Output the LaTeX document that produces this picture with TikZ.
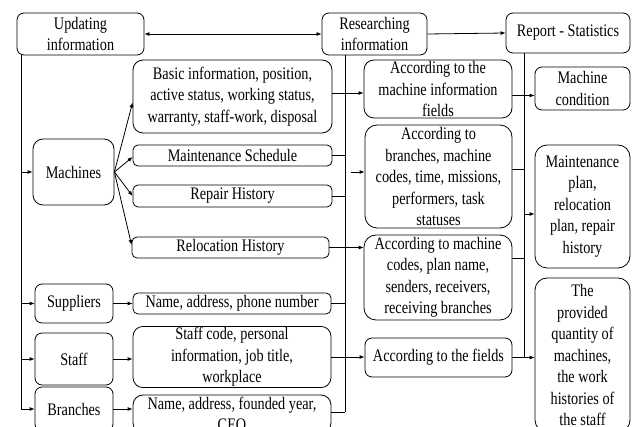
\documentclass[tikz,border=0pt]{standalone}
\usepackage{fontspec}
\setmainfont{Liberation Serif}[FakeStretch=0.81]
\usetikzlibrary{arrows.meta}
\begin{document}
\begin{tikzpicture}[x=1pt,y=-1pt,
  box/.style={draw, line width=0.8pt, rounded corners=7pt, align=center,
    inner sep=1pt, font=\fontsize{17.6}{21.5}\selectfont},
  bigbox/.style={box, rounded corners=12pt},
  link/.style={line width=0.8pt},
  arr/.style={link, -{Latex[length=5pt,width=4pt]}},
  dbl/.style={link, {Latex[length=5pt,width=4pt]}-{Latex[length=5pt,width=4pt]}}]
\useasboundingbox (0,0) rectangle (632,427);
\clip (0,0) rectangle (632,427);

% top row
\node[box, minimum width=127pt, minimum height=42pt] (upd) at (80.5,34) {Updating\\information};
\node[box, minimum width=105pt, minimum height=42pt] (res) at (374.5,34) {Researching\\information};
\node[box, minimum width=124pt, minimum height=40pt] (rep) at (568,33) {Report - Statistics};

% entities
\node[box, rounded corners=10pt, minimum width=81pt, minimum height=66pt] (mach) at (73.5,172) {Machines};
\node[box, minimum width=78pt, minimum height=39pt] (sup) at (74,303.5) {Suppliers};
\node[box, minimum width=78pt, minimum height=52pt] (staff) at (74,359) {Staff};
\node[box, minimum width=78pt, minimum height=44pt] (branch) at (74,409) {Branches};

% updated data
\node[box, rounded corners=10pt, minimum width=199pt, minimum height=73pt] (basic) at (232.5,96.5)
  {Basic information, position,\\active status, working status,\\warranty, staff-work, disposal};
\node[box, rounded corners=5pt, minimum width=199pt, minimum height=21pt] (msch) at (232.5,155.5) {Maintenance Schedule};
\node[box, rounded corners=5pt, minimum width=199pt, minimum height=22pt] (rhist) at (232.5,196) {Repair History};
\node[box, rounded corners=5pt, minimum width=197pt, minimum height=21pt] (reloc) at (230.5,247.5) {Relocation History};
\node[box, rounded corners=5pt, minimum width=198pt, minimum height=21pt] (sname) at (232,303.5) {Name, address, phone number};
\node[box, rounded corners=10pt, minimum width=198pt, minimum height=60pt] (scode) at (232,357)
  {Staff code, personal\\information, job title,\\workplace};
\node[box, rounded corners=10pt, minimum width=198pt, minimum height=38pt] (bname) at (232,414)
  {Name, address, founded year,\\CEO};

% search criteria
\node[box, rounded corners=10pt, minimum width=148pt, minimum height=58pt] (amach) at (438,89)
  {According to the\\machine information\\fields};
\node[bigbox, minimum width=147pt, minimum height=103pt] (abr) at (438.5,176.5)
  {According to\\branches, machine\\codes, time, missions,\\performers, task\\statuses};
\node[bigbox, minimum width=148pt, minimum height=85pt] (acodes) at (438,277.5)
  {According to machine\\codes, plan name,\\senders, receivers,\\receiving branches};
\node[box, minimum width=147pt, minimum height=39pt] (afields) at (438.5,357.5) {According to the fields};

% reports
\node[box, minimum width=95pt, minimum height=43pt] (mcond) at (582.5,88.5) {Machine\\condition};
\node[bigbox, minimum width=95pt, minimum height=123pt] (mplan) at (582.5,206.5)
  {Maintenance\\plan,\\relocation\\plan, repair\\history};
\node[bigbox, minimum width=95pt, minimum height=154pt] (prov) at (582.5,355)
  {The\\provided\\quantity of\\machines,\\the work\\histories of\\the staff};

% trunk positions and free line ends
\coordinate (tL) at (21,0);
\coordinate (tM) at (345,0);
\coordinate (tR) at (524,0);
\coordinate (mEnd) at (345,412);
\coordinate (ySel) at (0,93);
\coordinate (yBr) at (0,412);
\coordinate (fIn) at (351,172);
\coordinate (yCond) at (0,95.5);
\coordinate (yAbr) at (0,169);
\coordinate (yPlan) at (0,214);
\coordinate (yCodes) at (0,258);

% top row links
\draw[dbl] (upd.east) -- (res.west);
\draw[arr] (res.east) -- (rep.west);

% updating branch
\draw[link] (upd.south -| tL) -- (tL |- branch.west);
\draw[arr] (tL |- mach.west) -- (mach.west);
\draw[arr] (tL |- sup.west) -- (sup.west);
\draw[arr] (tL |- staff.west) -- (staff.west);
\draw[arr] (tL |- branch.west) -- (branch.west);

\draw[arr] (mach.east) -- ([yshift=-6pt]basic.west);
\draw[arr] (mach.east) -- ([yshift=-1.5pt]msch.west);
\draw[arr] (mach.east) -- (rhist.west);
\draw[arr] (mach.east) -- ([yshift=2.5pt]reloc.west);
\draw[arr] (sup.east) -- (sname.west);
\draw[arr] (staff.east) -- (staff.east -| scode.west);
\draw[arr] (branch.east) -- (branch.east -| bname.west);

% researching branch
\draw[link] (res.south -| tM) -- (mEnd);
\draw[arr] (basic.east |- ySel) -- (amach.west |- ySel);
\draw[link] (msch.east) -- (msch.east -| tM);
\draw[link] (rhist.east) -- (rhist.east -| tM);
\draw[arr] (reloc.east) -- (reloc.east -| acodes.west);
\draw[link] (sname.east) -- (sname.east -| tM);
\draw[arr] (scode.east) -- (scode.east -| afields.west);
\draw[link] (bname.east |- yBr) -- (mEnd);
\draw[arr] (fIn) -- (fIn -| abr.west);

% report branch
\draw[link] (rep.south -| tR) -- (tR |- afields.east);
\draw[arr] (amach.east |- yCond) -- (mcond.west |- yCond);
\draw[link] (abr.east |- yAbr) -- (tR |- yAbr);
\draw[arr] (tR |- yPlan) -- (mplan.west |- yPlan);
\draw[link] (acodes.east |- yCodes) -- (tR |- yCodes);
\draw[arr] (afields.east) -- (afields.east -| prov.west);
\end{tikzpicture}
\end{document}
